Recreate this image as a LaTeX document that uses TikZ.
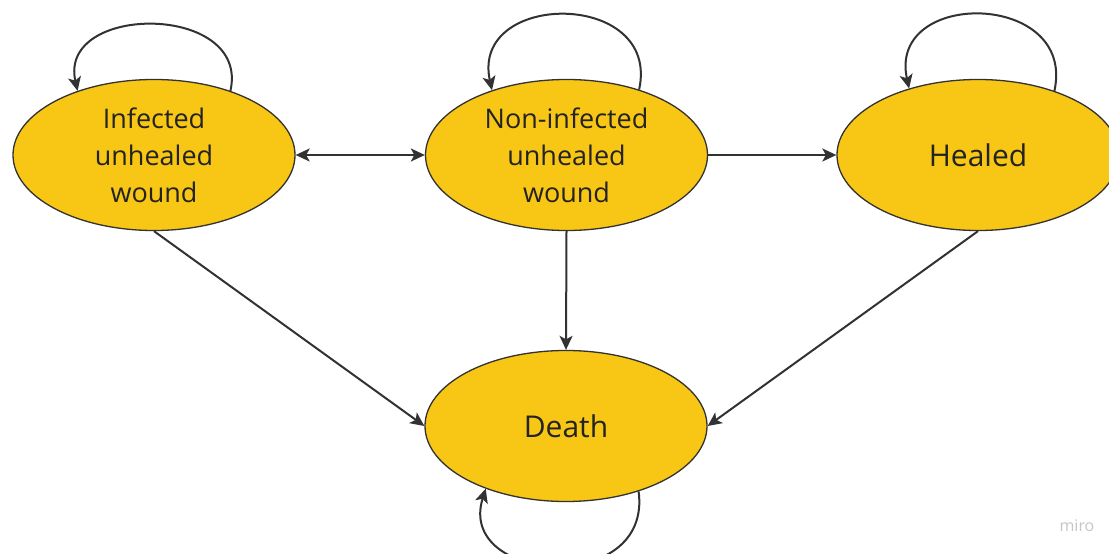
\documentclass[tikz,border=0pt]{standalone}
\usepackage{fontspec}
\setmainfont{Open Sans}
\usetikzlibrary{shapes.geometric,arrows.meta}
\definecolor{miroyellow}{RGB}{248,198,20}
\definecolor{ink}{RGB}{50,50,50}
\definecolor{txt}{RGB}{35,35,35}
\tikzset{
  state/.style={ellipse, draw=ink, line width=1.3bp, fill=miroyellow,
    minimum width=282bp, minimum height=151bp, inner sep=0pt,
    align=center, text=txt},
  small/.style={font=\fontsize{27bp}{37bp}\selectfont},
  big/.style={font=\fontsize{30bp}{36bp}\selectfont},
  conn/.style={draw=ink, line width=2bp,
    -{Stealth[length=14bp,width=13bp,inset=3.5bp]}},
  bconn/.style={conn, {Stealth[length=14bp,width=13bp,inset=3.5bp]}-{Stealth[length=14bp,width=13bp,inset=3.5bp]}}
}
\begin{document}
\begin{tikzpicture}[x=1bp,y=-1bp]
\useasboundingbox (0,0) rectangle (1109,554);
\clip (0,0) rectangle (1109,554);
\fill[white] (0,0) rectangle (1109,554);

\node[state,small] (inf) at (154,155) {Infected\\unhealed\\wound};
\node[state,small] (non) at (566.5,155) {Non-infected\\unhealed\\wound};
\node[state,big] (hea) at (978,155) {Healed};
\node[state,big] (dea) at (566,426) {Death};

\draw[bconn] (inf.east) -- (non.west);
\draw[conn] (non.east) -- (hea.west);
\draw[conn] (inf.south) -- (dea.west);
\draw[conn] (non.south) -- (dea.north);
\draw[conn] (hea.south) -- (dea.east);

\draw[conn] (inf.40) .. controls +(20,-88) and +(-20,-88) .. (inf.140);
\draw[conn] (non.42) .. controls +(22,-100) and +(-22,-100) .. (non.139);
\draw[conn] (hea.40) .. controls +(22,-100) and +(-22,-100) .. (hea.136);
\draw[conn] (dea.-42) .. controls +(14,105) and +(-30,95) .. (dea.-142);

\node[text=gray!45, font=\fontsize{16bp}{18bp}\selectfont] (miro) at (1077,526) {miro};
\end{tikzpicture}
\end{document}
